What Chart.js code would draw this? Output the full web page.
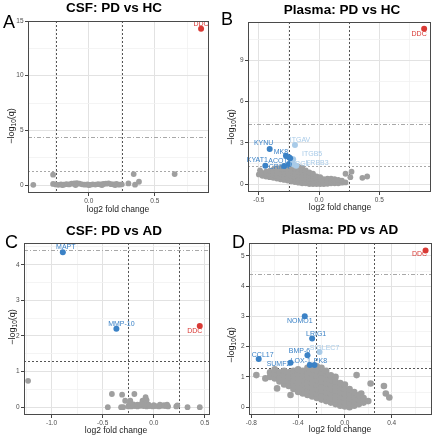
<!DOCTYPE html>
<html>
<head>
<meta charset="utf-8">
<script src="https://cdn.jsdelivr.net/npm/chart.js@4.4.0/dist/chart.umd.min.js"></script>
<style>
  html, body { margin: 0; padding: 0; background: #fff; }
  #wrap { position: relative; width: 439px; height: 440px; }
  canvas { position: absolute; }
</style>
</head>
<body>
<div id="wrap">
  <canvas id="pA" width="219" height="220" style="left:0;top:0"></canvas>
  <canvas id="pB" width="220" height="220" style="left:219px;top:0"></canvas>
  <canvas id="pC" width="219" height="220" style="left:0;top:220px"></canvas>
  <canvas id="pD" width="220" height="220" style="left:219px;top:220px"></canvas>
</div>
<script>
// thresholds
const foldCut = [-0.25, 0.25];
const qCut = 1.3;
const strictCut = 4.4;

// A: CSF PD vs HC  [log2FC, -log10 q]
const csfHcGrey = [
  [-0.42, 0.02], [-0.27, 0.95], [-0.27, 0.1], [-0.25, 0.05], [-0.23, 0.02], [-0.21, 0.06],
  [-0.19, 0.03], [-0.17, 0.08], [-0.15, 0.05], [-0.13, 0.12], [-0.11, 0.15], [-0.09, 0.18],
  [-0.07, 0.12], [-0.05, 0.06], [-0.03, 0.03], [-0.01, 0.05], [0.01, 0.02], [0.03, 0.06],
  [0.05, 0.04], [0.07, 0.08], [0.09, 0.05], [0.11, 0.1], [0.13, 0.12], [0.15, 0.15],
  [0.17, 0.08], [0.19, 0.05], [0.21, 0.1], [0.23, 0.03], [0.25, 0.06], [-0.2, 0.0],
  [-0.1, 0.0], [0.0, 0.0], [0.1, 0.0], [0.2, 0.0], [0.3, 0.15], [0.34, 1.0],
  [0.35, 0.03], [0.38, 0.3], [0.65, 1.0]
];
const csfHcUp = [[0.85, 14.3]];
const csfHcUpGenes = ['DDC'];

// B: Plasma PD vs HC
const plasmaHcGrey = [
  [-0.50, 0.7], [-0.49, 1.0], [-0.47, 0.6], [-0.47, 0.8], [-0.44, 0.55], [-0.44, 0.75], [-0.44, 0.9],
  [-0.41, 0.5], [-0.41, 0.7], [-0.41, 0.95], [-0.38, 0.45], [-0.38, 0.65], [-0.38, 0.9], [-0.38, 1.05],
  [-0.35, 0.4], [-0.35, 0.6], [-0.35, 0.8], [-0.35, 1.0], [-0.35, 1.15],
  [-0.32, 0.35], [-0.32, 0.55], [-0.32, 0.75], [-0.32, 0.95], [-0.32, 1.15],
  [-0.29, 0.3], [-0.29, 0.5], [-0.29, 0.7], [-0.29, 0.9], [-0.29, 1.1], [-0.29, 1.3],
  [-0.26, 0.25], [-0.26, 0.45], [-0.26, 0.65], [-0.26, 0.85], [-0.26, 1.05], [-0.26, 1.25],
  [-0.23, 0.2], [-0.23, 0.4], [-0.23, 0.6], [-0.23, 0.8], [-0.23, 1.0], [-0.23, 1.2], [-0.23, 1.4],
  [-0.20, 0.15], [-0.20, 0.35], [-0.20, 0.55], [-0.20, 0.75], [-0.20, 0.95], [-0.20, 1.15], [-0.20, 1.35],
  [-0.17, 0.1], [-0.17, 0.3], [-0.17, 0.5], [-0.17, 0.7], [-0.17, 0.9], [-0.17, 1.1], [-0.17, 1.25],
  [-0.14, 0.05], [-0.14, 0.25], [-0.14, 0.45], [-0.14, 0.65], [-0.14, 0.85], [-0.14, 1.05], [-0.14, 1.2],
  [-0.11, 0.05], [-0.11, 0.2], [-0.11, 0.4], [-0.11, 0.6], [-0.11, 0.8], [-0.11, 1.0],
  [-0.08, 0.0], [-0.08, 0.2], [-0.08, 0.4], [-0.08, 0.6], [-0.08, 0.85],
  [-0.05, 0.0], [-0.05, 0.2], [-0.05, 0.4], [-0.05, 0.6], [-0.05, 0.75],
  [-0.02, 0.0], [-0.02, 0.15], [-0.02, 0.35], [-0.02, 0.55],
  [0.01, 0.0], [0.01, 0.15], [0.01, 0.35], [0.01, 0.5],
  [0.04, 0.0], [0.04, 0.15], [0.04, 0.35], [0.07, 0.02], [0.07, 0.2], [0.07, 0.4],
  [0.10, 0.05], [0.10, 0.2], [0.10, 0.4], [0.13, 0.05], [0.13, 0.2], [0.13, 0.35],
  [0.16, 0.05], [0.16, 0.2], [0.16, 0.3], [0.19, 0.1], [0.19, 0.25], [0.22, 0.12],
  [0.22, 0.75], [0.27, 0.9], [0.26, 0.5], [0.36, 0.45], [0.40, 0.55]
];
const plasmaHcUp = [[0.873, 11.3]];
const plasmaHcUpGenes = ['DDC'];
const plasmaHcDown = [[-0.41, 2.55], [-0.275, 2.06], [-0.25, 1.95], [-0.24, 1.88], [-0.25, 1.45], [-0.446, 1.33], [-0.29, 1.32]];
const plasmaHcDownGenes = ['KYNU', 'MK8', '', '', 'ACOT7', 'KYAT1', 'CRMA'];
const plasmaHcWeak = [[-0.2, 2.84], [-0.215, 1.8], [-0.21, 1.42], [-0.19, 1.33]];
const plasmaHcWeakGenes = ['ITGAV', 'ITGB5', 'NRG1', 'ERBB3'];

// C: CSF PD vs AD
const csfAdGrey = [
  [-1.23, 0.74], [-0.45, 0.0], [-0.41, 0.37], [-0.31, 0.35], [-0.19, 0.37], [-0.28, 0.18],
  [-0.23, 0.18], [-0.11, 0.18], [-0.08, 0.28], [-0.07, 0.2], [-0.09, 0.1], [-0.32, 0.0], [-0.30, 0.0],
  [-0.25, 0.02], [-0.22, 0.02], [-0.19, 0.03], [-0.16, 0.02], [-0.13, 0.04], [-0.10, 0.03],
  [-0.07, 0.02], [-0.04, 0.03], [-0.01, 0.02], [0.02, 0.03], [0.05, 0.02], [0.08, 0.04],
  [0.11, 0.03], [0.14, 0.02], [-0.24, 0.08], [-0.2, 0.08], [-0.16, 0.07], [-0.12, 0.09],
  [-0.05, 0.07], [0.0, 0.06], [0.06, 0.07], [0.1, 0.06], [0.13, 0.07],
  [0.22, 0.02], [0.23, 0.05], [0.33, 0.0], [0.45, 0.0]
];
const csfAdUp = [[0.45, 2.28]];
const csfAdUpGenes = ['DDC'];
const csfAdDown = [[-0.89, 4.35], [-0.366, 2.2]];
const csfAdDownGenes = ['MAPT', 'MMP-10'];

// D: Plasma PD vs AD
const plasmaAdGrey = [
  [-0.757, 1.06], [-0.68, 0.95], [-0.58, 0.62], [-0.465, 0.4], [0.1, 1.06], [0.22, 0.78],
  [0.334, 0.7], [0.35, 0.45], [0.38, 0.32], [0.14, 0.45],
  [-0.64, 1.0], [-0.64, 1.15], [-0.60, 0.95], [-0.60, 1.1], [-0.60, 1.25],
  [-0.56, 0.85], [-0.56, 1.0], [-0.56, 1.15], [-0.52, 0.75], [-0.52, 0.9], [-0.52, 1.05], [-0.52, 1.2],
  [-0.48, 0.7], [-0.48, 0.85], [-0.48, 1.0], [-0.48, 1.15],
  [-0.44, 0.6], [-0.44, 0.75], [-0.44, 0.9], [-0.44, 1.05], [-0.44, 1.2],
  [-0.40, 0.5], [-0.40, 0.65], [-0.40, 0.8], [-0.40, 0.95], [-0.40, 1.1], [-0.40, 1.25],
  [-0.36, 0.45], [-0.36, 0.6], [-0.36, 0.75], [-0.36, 0.9], [-0.36, 1.05], [-0.36, 1.2],
  [-0.32, 0.4], [-0.32, 0.55], [-0.32, 0.7], [-0.32, 0.85], [-0.32, 1.0], [-0.32, 1.15], [-0.32, 1.3],
  [-0.28, 0.35], [-0.28, 0.5], [-0.28, 0.65], [-0.28, 0.8], [-0.28, 0.95], [-0.28, 1.1], [-0.28, 1.25],
  [-0.24, 0.3], [-0.24, 0.45], [-0.24, 0.6], [-0.24, 0.75], [-0.24, 0.9], [-0.24, 1.05], [-0.24, 1.2], [-0.24, 1.35],
  [-0.20, 0.25], [-0.20, 0.4], [-0.20, 0.55], [-0.20, 0.7], [-0.20, 0.85], [-0.20, 1.0], [-0.20, 1.15], [-0.20, 1.3],
  [-0.16, 0.2], [-0.16, 0.35], [-0.16, 0.5], [-0.16, 0.65], [-0.16, 0.8], [-0.16, 0.95], [-0.16, 1.1], [-0.16, 1.2],
  [-0.12, 0.15], [-0.12, 0.3], [-0.12, 0.45], [-0.12, 0.6], [-0.12, 0.75], [-0.12, 0.9], [-0.12, 1.05],
  [-0.08, 0.1], [-0.08, 0.25], [-0.08, 0.4], [-0.08, 0.55], [-0.08, 0.7], [-0.08, 0.85], [-0.08, 1.0],
  [-0.04, 0.05], [-0.04, 0.2], [-0.04, 0.35], [-0.04, 0.5], [-0.04, 0.65], [-0.04, 0.8],
  [0.00, 0.02], [0.00, 0.15], [0.00, 0.3], [0.00, 0.45], [0.00, 0.6], [0.00, 0.75],
  [0.04, 0.0], [0.04, 0.15], [0.04, 0.3], [0.04, 0.45], [0.04, 0.6],
  [0.08, 0.05], [0.08, 0.2], [0.08, 0.35], [0.08, 0.5],
  [0.12, 0.1], [0.12, 0.25], [0.12, 0.4], [0.16, 0.15], [0.16, 0.3], [0.20, 0.2]
];
const plasmaAdUp = [[0.69, 5.18]];
const plasmaAdUpGenes = ['DDC'];
const plasmaAdDown = [[-0.343, 3.01], [-0.28, 2.27], [-0.32, 1.72], [-0.737, 1.59], [-0.465, 1.47], [-0.30, 1.39], [-0.26, 1.39]];
const plasmaAdDownGenes = ['NOMO1', 'LRIG1', 'BMP-6', 'CCL17', 'SUMF2', 'LOX-1', 'PK8'];
const plasmaAdWeak = [[-0.217, 1.82]];
const plasmaAdWeakGenes = ['SIGLEC7'];

const RED = '#d93a35';
const BLUE = '#3b82c6';
const LIGHT = '#a9cbe8';
const GREY = '#9f9f9f';
const FONT = '"Liberation Sans", Arial, Helvetica, sans-serif';

// label nudges in px (label centre relative to point)
const nudges = {
  pA: { DDC: [0, -5] },
  pB: { DDC: [-5, 5], KYNU: [-6, -6], MK8: [-5, -4], KYAT1: [-8, -6], ACOT7: [-9, -3], CRMA: [-5, 1],
        ITGAV: [5, -5], ITGB5: [19, -5], NRG1: [6, 0], ERBB3: [21, -3] },
  pC: { DDC: [-5, 5], MAPT: [3, -5], 'MMP-10': [5, -5] },
  pD: { DDC: [-6, 4], NOMO1: [-5, 5], LRIG1: [4, -4], 'BMP-6': [-8, -4], SIGLEC7: [5, -4], CCL17: [4, -4],
        SUMF2: [-12, 1], 'LOX-1': [-9, -4], PK8: [6, -4] }
};

const panels = [
  { id: 'pA', w: 219, title: 'CSF: PD vs HC', letter: 'A', area: { l: 28, r: 209, t: 21, b: 193 },
    x: { min: -0.46, max: 0.91, major: 0.5 }, y: { min: -0.73, max: 15.0, major: 5 }, greyR: 2.9,
    titlePos: [114, 8], letterPos: [3, 28], xTitlePos: [118, 210], yTitlePos: [11, 126], qColor: '#a8a8a8',
    sets: [[csfHcUp, csfHcUpGenes, RED], [csfHcGrey, null, GREY]] },
  { id: 'pB', w: 220, title: 'Plasma: PD vs HC', letter: 'B', area: { l: 29, r: 212, t: 22, b: 192 },
    x: { min: -0.59, max: 0.93, major: 0.5 }, y: { min: -0.58, max: 11.8, major: 3 }, greyR: 2.9,
    titlePos: [123, 10], letterPos: [2, 25], xTitlePos: [121, 208], yTitlePos: [12, 127], qColor: '#a8a8a8',
    sets: [[plasmaHcUp, plasmaHcUpGenes, RED], [plasmaHcDown, plasmaHcDownGenes, BLUE],
           [plasmaHcWeak, plasmaHcWeakGenes, LIGHT], [plasmaHcGrey, null, GREY]] },
  { id: 'pC', w: 219, title: 'CSF: PD vs AD', letter: 'C', area: { l: 24, r: 210, t: 23, b: 195 },
    x: { min: -1.27, max: 0.55, major: 0.5 }, y: { min: -0.22, max: 4.61, major: 1 }, greyR: 2.9,
    titlePos: [114, 11], letterPos: [5, 28], xTitlePos: [116, 211], yTitlePos: [12, 107], qColor: '#555',
    sets: [[csfAdUp, csfAdUpGenes, RED], [csfAdDown, csfAdDownGenes, BLUE], [csfAdGrey, null, GREY]] },
  { id: 'pD', w: 220, title: 'Plasma: PD vs AD', letter: 'D', area: { l: 30, r: 213, t: 23, b: 195 },
    x: { min: -0.82, max: 0.745, major: 0.4 }, y: { min: -0.26, max: 5.43, major: 1 }, greyR: 3.3,
    titlePos: [121, 10], letterPos: [13, 28], xTitlePos: [121, 210], yTitlePos: [12, 125], qColor: '#555',
    sets: [[plasmaAdUp, plasmaAdUpGenes, RED], [plasmaAdDown, plasmaAdDownGenes, BLUE],
           [plasmaAdWeak, plasmaAdWeakGenes, LIGHT], [plasmaAdGrey, null, GREY]] }
];
const panelById = {};
panels.forEach(p => { panelById[p.id] = p; });

const isMajor = (v, major) => Math.abs(v / major - Math.round(v / major)) < 1e-6;

function hLine(ctx, a, py, color, dash) {
  ctx.strokeStyle = color;
  ctx.setLineDash(dash);
  ctx.beginPath();
  ctx.moveTo(a.left, Math.round(py) + 0.5);
  ctx.lineTo(a.right, Math.round(py) + 0.5);
  ctx.stroke();
}

const decor = {
  id: 'decor',
  beforeDatasetsDraw(chart) {
    const p = panelById[chart.canvas.id];
    const { ctx, chartArea: a, scales: { x, y } } = chart;
    ctx.save();
    ctx.beginPath();
    ctx.rect(a.left, a.top, a.right - a.left, a.bottom - a.top);
    ctx.clip();
    ctx.lineWidth = 1;
    foldCut.forEach(v => {
      const px = Math.round(x.getPixelForValue(v)) + 0.5;
      ctx.strokeStyle = '#555';
      ctx.setLineDash([2, 2]);
      ctx.beginPath();
      ctx.moveTo(px, a.top);
      ctx.lineTo(px, a.bottom);
      ctx.stroke();
    });
    hLine(ctx, a, y.getPixelForValue(qCut), p.qColor, [2, 2]);
    hLine(ctx, a, y.getPixelForValue(strictCut), '#a8a8a8', [4, 2, 1, 2]);
    ctx.restore();
  },
  afterDatasetsDraw(chart) {
    const p = panelById[chart.canvas.id];
    const { ctx, chartArea: a } = chart;
    ctx.save();
    // gene labels
    ctx.font = '7px ' + FONT;
    ctx.textAlign = 'center';
    ctx.textBaseline = 'middle';
    p.sets.forEach((s, i) => {
      const genes = s[1];
      if (!genes) return;
      const meta = chart.getDatasetMeta(i);
      ctx.fillStyle = s[2];
      genes.forEach((g, j) => {
        if (!g) return;
        const el = meta.data[j];
        const n = nudges[p.id][g] || [0, -5];
        ctx.fillText(g, el.x + n[0], el.y + n[1]);
      });
    });
    // panel border
    ctx.strokeStyle = '#4a4a4a';
    ctx.lineWidth = 1;
    ctx.strokeRect(Math.round(a.left) + 0.5, Math.round(a.top) + 0.5,
      Math.round(a.right - a.left) - 1, Math.round(a.bottom - a.top) - 1);
    ctx.restore();
  },
  afterDraw(chart) {
    const p = panelById[chart.canvas.id];
    const ctx = chart.ctx;
    ctx.save();
    ctx.fillStyle = '#000';
    ctx.textBaseline = 'middle';
    ctx.textAlign = 'center';
    ctx.font = 'bold 13.5px ' + FONT;
    ctx.fillText(p.title, p.titlePos[0], p.titlePos[1]);
    ctx.textAlign = 'left';
    ctx.textBaseline = 'alphabetic';
    ctx.font = '18px ' + FONT;
    ctx.fillText(p.letter, p.letterPos[0], p.letterPos[1]);
    // axis titles
    ctx.fillStyle = '#1a1a1a';
    ctx.textAlign = 'center';
    ctx.textBaseline = 'middle';
    ctx.font = '8.5px ' + FONT;
    ctx.fillText('log2 fold change', p.xTitlePos[0], p.xTitlePos[1]);
    // -log10(q), rotated
    ctx.translate(p.yTitlePos[0], p.yTitlePos[1]);
    ctx.rotate(-Math.PI / 2);
    ctx.textAlign = 'left';
    ctx.textBaseline = 'alphabetic';
    const big = '9px ' + FONT, small = '6.5px ' + FONT;
    ctx.font = big;
    const w1 = ctx.measureText('\u2212log').width;
    const w3 = ctx.measureText('(q)').width;
    ctx.font = small;
    const w2 = ctx.measureText('10').width;
    let cx = -(w1 + w2 + w3) / 2;
    const base = 3;
    ctx.font = big;
    ctx.fillText('\u2212log', cx, base);
    cx += w1;
    ctx.font = small;
    ctx.fillText('10', cx, base + 2);
    cx += w2;
    ctx.font = big;
    ctx.fillText('(q)', cx, base);
    ctx.restore();
  }
};

function axis(range, decimals, horizontal, fixedSize) {
  return {
    type: 'linear',
    min: range.min,
    max: range.max,
    border: { display: false },
    grid: {
      color: c => (c.tick && isMajor(c.tick.value, range.major)) ? '#e2e2e2' : '#f1f1f1',
      lineWidth: c => (c.tick && isMajor(c.tick.value, range.major)) ? 1 : 0.8,
      tickColor: c => (c.tick && isMajor(c.tick.value, range.major)) ? '#444' : 'rgba(0,0,0,0)',
      tickLength: 3,
      drawTicks: true
    },
    ticks: {
      stepSize: range.major / 2,
      includeBounds: false,
      autoSkip: false,
      maxRotation: 0,
      minRotation: 0,
      padding: 1.5,
      color: '#4d4d4d',
      font: { size: 6.5, family: FONT },
      callback: v => {
        if (!isMajor(v, range.major)) return '';
        const r = Math.round(v / range.major) * range.major;
        return decimals ? (Math.round(r * 10) / 10).toFixed(decimals) : String(Math.round(r));
      }
    },
    afterFit: s => {
      if (horizontal) s.height = fixedSize; else s.width = fixedSize;
    }
  };
}

panels.forEach(p => {
  const datasets = p.sets.map(s => ({
    data: s[0].map(d => ({ x: d[0], y: d[1] })),
    backgroundColor: s[2],
    borderWidth: 0,
    pointRadius: s[2] === GREY ? p.greyR : 3,
    pointHoverRadius: 3
  }));
  new Chart(document.getElementById(p.id), {
    type: 'scatter',
    data: { datasets },
    options: {
      responsive: false,
      animation: false,
      devicePixelRatio: 1,
      events: [],
      layout: { padding: { left: 0, right: p.w - p.area.r, top: p.area.t, bottom: 0 } },
      plugins: { legend: { display: false }, tooltip: { enabled: false } },
      scales: {
        x: axis(p.x, 1, true, 220 - p.area.b),
        y: axis(p.y, 0, false, p.area.l)
      }
    },
    plugins: [decor]
  });
});
</script>
</body>
</html>
